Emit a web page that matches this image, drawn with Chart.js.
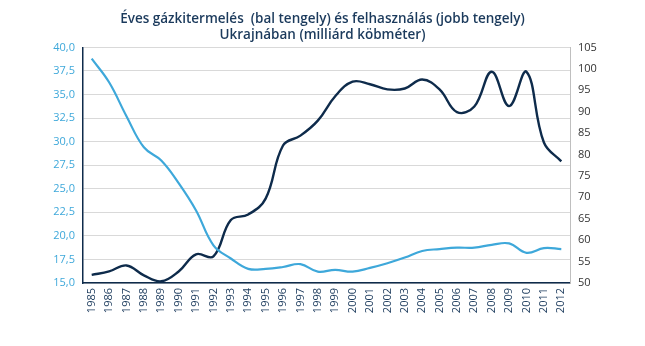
<!DOCTYPE html>
<html>
<head>
<meta charset="utf-8">
<script src="https://cdn.jsdelivr.net/npm/chart.js@4"></script>
<style>
html,body{margin:0;padding:0;background:#fff}
#wrap{width:645px;height:346px}
</style>
</head>
<body>
<div id="wrap"><canvas id="chart" width="645" height="346"></canvas></div>
<script>
const years=["1985","1986","1987","1988","1989","1990","1991","1992","1993","1994","1995","1996","1997","1998","1999","2000","2001","2002","2003","2004","2005","2006","2007","2008","2009","2010","2011","2012"]

// termelés, bal tengely
const production=[38.8,36.3,32.7,29.4,28.0,25.6,22.7,19.0,17.6,16.5,16.5,16.7,17.0,16.2,16.4,16.2,16.6,17.1,17.7,18.4,18.6,18.75,18.75,19.05,19.2,18.2,18.7,18.6]

// felhasználás, jobb tengely
const consumption=[51.9,52.7,54.1,51.8,50.4,52.7,56.7,56.2,64.7,66.0,69.7,82.1,84.4,87.9,93.6,97.0,96.4,95.2,95.4,97.5,95.2,89.9,91.2,99.3,91.3,99.3,82.8,78.4]

const lightBlue="#3ea8da"
const navy="#0e2b4b"

new Chart(document.getElementById("chart"),{
type:"line",
data:{
labels:years,
datasets:[{
label:"Termelés",
data:production,
yAxisID:"yl",
borderColor:lightBlue,
borderWidth:2.2,
pointRadius:0,
tension:0.4
},{
label:"Felhasználás",
data:consumption,
yAxisID:"yr",
borderColor:navy,
borderWidth:2.4,
pointRadius:0,
tension:0.4
}]
},
options:{
responsive:false,
animation:false,
layout:{padding:{left:0,right:0,top:0,bottom:0}},
plugins:{
legend:{display:false},
tooltip:{enabled:false},
title:{
display:true,
text:["Éves gázkitermelés  (bal tengely) és felhasználás (jobb tengely)","Ukrajnában (milliárd köbméter)"],
color:"#1b3a5c",
font:{family:"'Open Sans', sans-serif",size:13.5,weight:"600",lineHeight:1.2},
padding:{top:11,bottom:4}
}
},
scales:{
x:{
offset:true,
grid:{display:false,drawTicks:false},
border:{color:navy,width:1.5},
ticks:{
color:"#1b3a5c",
font:{family:"'Open Sans', sans-serif",size:11},
maxRotation:90,minRotation:90,autoSkip:false,padding:5
},
afterFit(s){s.height=63}
},
yl:{
position:"left",
min:15,max:40,
grid:{color:"#d9d9d9",drawTicks:false},
border:{color:navy,width:1.5},
ticks:{
stepSize:2.5,
color:lightBlue,
padding:8,
font:{family:"'Open Sans', sans-serif",size:11},
callback:v=>v.toFixed(1).replace(".",",")
},
afterFit(s){s.width=83}
},
yr:{
position:"right",
min:50,max:105,
grid:{display:false,drawTicks:false},
border:{color:"#bfbfbf",width:1},
ticks:{
stepSize:5,
color:"#333",
padding:8,
font:{family:"'Open Sans', sans-serif",size:11}
},
afterFit(s){s.width=75}
}
}
}
})
</script>
</body>
</html>
